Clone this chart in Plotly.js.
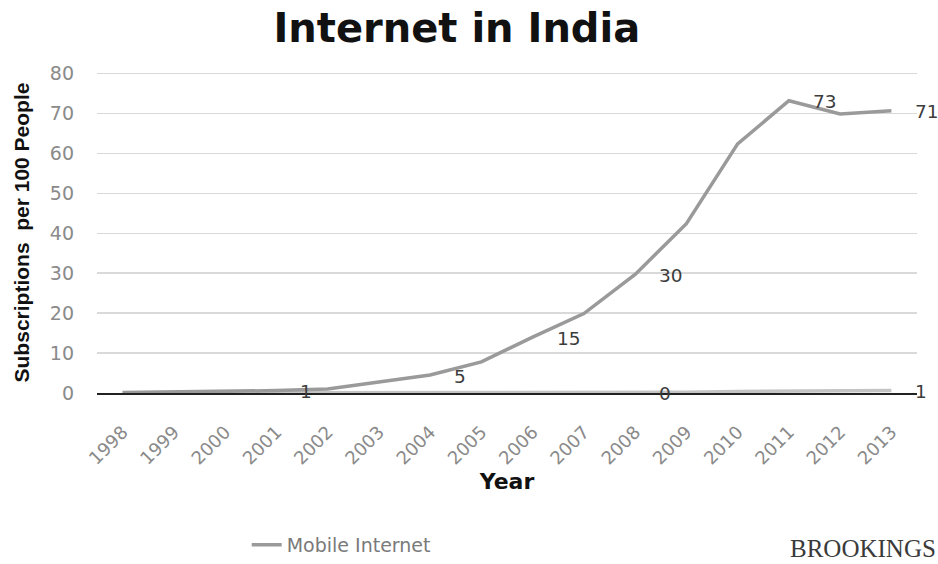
<!DOCTYPE html>
<html>
<head>
<meta charset="utf-8">
<script src="https://cdn.plot.ly/plotly-3.0.1.min.js"></script>
<style>
  html, body { margin: 0; padding: 0; background: #fff; }
  #chart { width: 938px; height: 564px; }
</style>
</head>
<body>
<div id="chart"></div>
<script>
// ---- data ----
const years = ['1998','1999','2000','2001','2002','2003','2004','2005','2006','2007','2008','2009','2010','2011','2012','2013'];
const mobileInternet = [0.1, 0.2, 0.3, 0.6, 1.0, 2.7, 4.5, 7.8, 14.0, 19.9, 29.7, 42.4, 62.4, 73.2, 69.9, 70.7];
const otherInternet  = [0, 0, 0, 0, 0, 0, 0, 0, 0, 0, 0.1, 0.2, 0.4, 0.5, 0.6, 0.6];
const mobileLabelYears = ['2001','2004','2006','2008','2011','2013'];
const mobileLabelTexts = ['1','5','15','30','73','71'];
const otherLabelYears = ['2008','2013'];
const otherLabelTexts = ['0','1'];
const yTicks = [0, 10, 20, 30, 40, 50, 60, 70, 80];

const traces = [
  {
    x: years, y: otherInternet, type: 'scatter', mode: 'lines',
    name: 'Other', showlegend: false,
    line: { color: '#c4c4c4', width: 3.5 }, hoverinfo: 'skip'
  },
  {
    x: years, y: mobileInternet, type: 'scatter', mode: 'lines',
    name: 'Mobile Internet',
    line: { color: '#9a9a9a', width: 3.5 }
  }
];

const labelFont = { family: 'DejaVu Sans, Arial, sans-serif', size: 18.5, color: '#3c3c3c' };
const annotations = [];
function addLabels(yrs, texts, series) {
  yrs.forEach((yr, i) => {
    const idx = years.indexOf(yr);
    annotations.push({
      x: idx, y: series[idx], xref: 'x', yref: 'y',
      text: texts[i], showarrow: false,
      xanchor: 'left', yanchor: 'middle',
      xshift: 22, yshift: -1,
      font: labelFont
    });
  });
}
addLabels(mobileLabelYears, mobileLabelTexts, mobileInternet);
addLabels(otherLabelYears, otherLabelTexts, otherInternet);

annotations.push({
  text: 'BROOKINGS', xref: 'paper', yref: 'paper',
  x: 0.843, y: -0.483, xanchor: 'left', yanchor: 'middle',
  showarrow: false,
  font: { family: 'Liberation Serif, Times New Roman, serif', size: 25, color: '#3a3a3a' }
});

const layout = {
  width: 938, height: 564,
  paper_bgcolor: '#ffffff', plot_bgcolor: '#ffffff',
  margin: { l: 97, r: 21, t: 72, b: 171 },
  title: {
    text: 'Internet in India',
    xref: 'container', yref: 'container',
    x: 0.487, y: 0.95, xanchor: 'center', yanchor: 'middle',
    font: { family: 'DejaVu Sans, Arial, sans-serif', size: 40, color: '#111111', weight: 'bold' }
  },
  xaxis: {
    type: 'category',
    range: [-0.5, years.length - 0.5],
    tickangle: -45,
    tickfont: { family: 'DejaVu Sans, Arial, sans-serif', size: 18, color: '#8a8a8a' },
    ticks: '', ticklabelstandoff: 20,
    showgrid: false, zeroline: false,
    showline: true, linecolor: '#222222', linewidth: 1.5,
    layer: 'below traces', automargin: false,
    title: {
      text: 'Year', standoff: 5,
      font: { family: 'DejaVu Sans, Arial, sans-serif', size: 22, color: '#111111', weight: 'bold' }
    }
  },
  yaxis: {
    range: [0, 80.4],
    tickvals: yTicks,
    tickfont: { family: 'DejaVu Sans, Arial, sans-serif', size: 19, color: '#8a8a8a' },
    ticks: '', ticklabelstandoff: 22,
    showgrid: true, gridcolor: '#d9d9d9', gridwidth: 1.5,
    zeroline: false, showline: false,
    layer: 'below traces', automargin: false,
    title: {
      text: 'Subscriptions  per 100 People', standoff: 14,
      font: { family: 'Liberation Sans, Arial, sans-serif', size: 21, color: '#111111', weight: 'bold' }
    }
  },
  showlegend: true,
  legend: {
    orientation: 'h',
    xref: 'container', yref: 'container',
    x: 0.263, y: 0.034, xanchor: 'left', yanchor: 'middle',
    font: { family: 'DejaVu Sans, Arial, sans-serif', size: 19, color: '#7a7a7a' },
    bgcolor: 'rgba(0,0,0,0)'
  },
  annotations: annotations
};

Plotly.newPlot('chart', traces, layout, { displayModeBar: false, staticPlot: true });
</script>
</body>
</html>
